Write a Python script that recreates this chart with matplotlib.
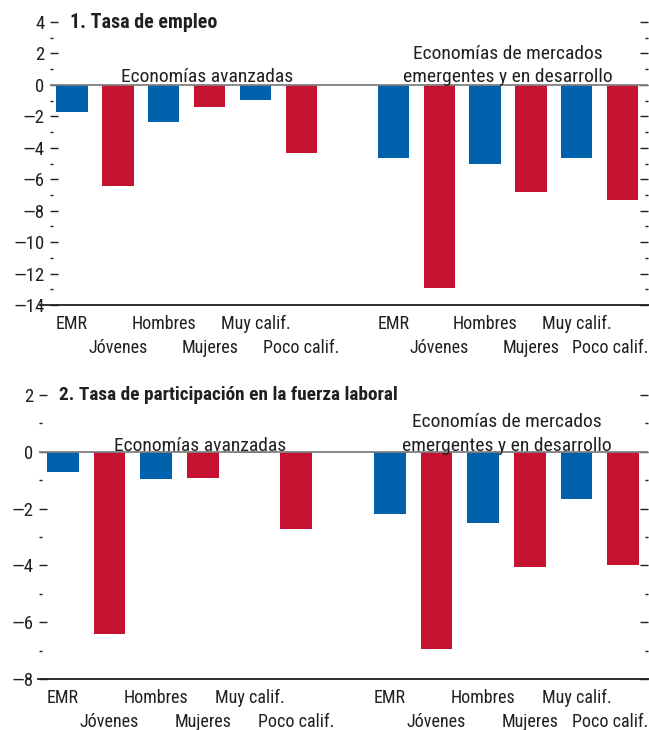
import matplotlib
matplotlib.use('Agg')
import matplotlib.pyplot as plt
import numpy as np
from matplotlib.ticker import FixedLocator, FuncFormatter

plt.rcParams['font.family'] = ['Roboto Condensed', 'Asap Condensed', 'DejaVu Sans']
plt.rcParams['text.color'] = '#231f20'

categories = ['EMR', 'Jóvenes', 'Hombres', 'Mujeres', 'Muy calif.', 'Poco calif.']
group_labels = ['Economías avanzadas', 'Economías de mercados\nemergentes y en desarrollo']

# panel 1: tasa de empleo
emp_adv = [-1.7, -6.45, -2.35, -1.4, -0.95, -4.35]
emp_emde = [-4.68, -12.9, -5.06, -6.84, -4.62, -7.3]
# panel 2: participacion
part_adv = [-0.72, -6.42, -0.97, -0.93, -0.05, -2.73]
part_emde = [-2.2, -6.93, -2.52, -4.07, -1.67, -4.0]

titles = ['1. Tasa de empleo', '2. Tasa de participación en la fuerza laboral']

blue = '#0061ad'
red = '#c41230'
dark = '#231f20'
colors = [blue, red] * 3

fig = plt.figure(figsize=(6.49, 7.30), dpi=100)
ax1 = fig.add_axes([50/649, 1-305/730, 598/649, 283/730])
ax2 = fig.add_axes([39/649, 1-679/730, 609/649, 284/730])


def fmt(v, pos):
    v = int(round(v))
    return '—' + str(abs(v)) if v < 0 else str(v)


def panel(ax, adv, emde, title, tsize, ylim, xlim, ext, gdy):
    x_adv = np.arange(6)
    x_emde = np.arange(6) + 7
    ax.bar(x_adv, adv, width=0.68, color=colors)
    ax.bar(x_emde, emde, width=0.68, color=colors)
    ax.set_xlim(*xlim)
    ax.set_ylim(*ylim)
    ax.axhline(0, color='#808080', lw=1.3, zorder=3)
    for s in ['top', 'left', 'right', 'bottom']:
        ax.spines[s].set_visible(False)
    ax.plot([-ext, 1.01], [0, 0], transform=ax.transAxes, color=dark,
            lw=1.3, clip_on=False)
    ax.yaxis.set_major_locator(FixedLocator(np.arange(ylim[0], ylim[1] + 1, 2)))
    ax.yaxis.set_minor_locator(FixedLocator(np.arange(ylim[0] + 1, ylim[1], 2)))
    ax.yaxis.set_major_formatter(FuncFormatter(fmt))
    ax.tick_params(axis='y', which='major', direction='in', length=6, width=1,
                   color=dark, labelsize=13.5, pad=4, left=True, right=True,
                   labelcolor=dark)
    ax.tick_params(axis='y', which='minor', direction='in', length=2, width=1,
                   color=dark, left=True, right=True)
    ax.set_xticks([])

    # category labels in two staggered rows
    xs = list(x_adv) + list(x_emde)
    labs = categories * 2
    for i, (x, lab) in enumerate(zip(xs, labs)):
        dy = -17 if i % 2 == 0 else -34.5
        if i == len(xs) - 1:
            ax.annotate(lab, xy=(1.0, 0), xycoords='axes fraction',
                        xytext=(0, dy), textcoords='offset points',
                        ha='right', va='baseline', fontsize=13)
        else:
            ax.annotate(lab, xy=(x, 0), xycoords=ax.get_xaxis_transform(),
                        xytext=(0, dy), textcoords='offset points',
                        ha='center', va='baseline', fontsize=13)

    ax.annotate(title, xy=(0, 1), xycoords='axes fraction', xytext=(14.5, 0),
                textcoords='offset points', fontsize=tsize, fontweight='bold',
                va='center', ha='left')
    ax.annotate(group_labels[0], xy=(2.95, 0), xytext=(0, gdy),
                textcoords='offset points', fontsize=14, ha='center', va='bottom')
    ax.annotate(group_labels[1], xy=(9.5, 0), xytext=(0, gdy),
                textcoords='offset points', fontsize=14, ha='center', va='bottom',
                linespacing=1.38)


panel(ax1, emp_adv, emp_emde, titles[0], 14.4, (-14, 4), (-0.48, 12.55), 0.017, -0.8)
panel(ax2, part_adv, part_emde, titles[1], 13.9, (-8, 2), (-0.51, 12.53), 0.002, -2.0)

fig.savefig('out.png', dpi=100)
